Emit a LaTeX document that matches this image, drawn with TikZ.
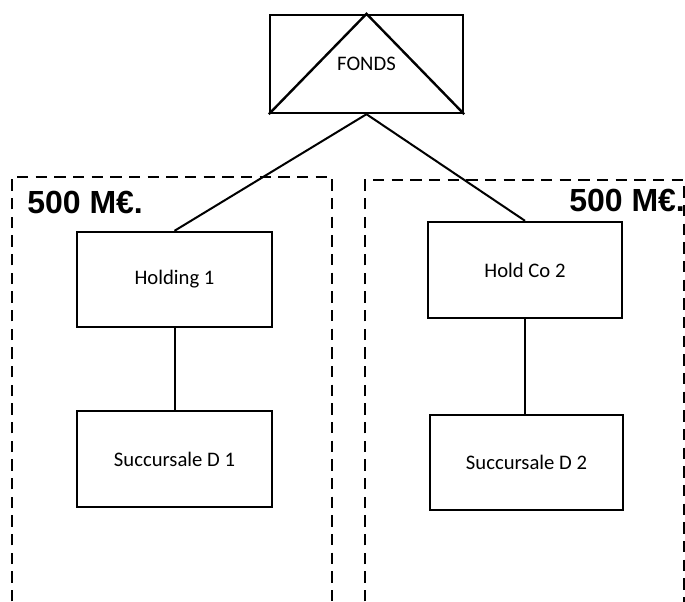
\documentclass[tikz,border=0pt]{standalone}
\usepackage{fontspec}
\setmainfont{Carlito}
\newfontfamily\labelfont{Liberation Sans}
\usetikzlibrary{positioning}
\tikzset{
  orgbox/.style={
    draw=black,
    line width=1.8pt,
    fill=white,
    align=center,
    inner sep=2pt,
    font=\fontsize{15.5}{18}\selectfont
  },
  zonebox/.style={
    draw=black,
    line width=1.5pt,
    dash pattern=on 8.5pt off 5.5pt
  },
  link/.style={
    draw=black,
    line width=1.5pt
  },
  amount/.style={
    anchor=base west,
    inner sep=0pt,
    font=\labelfont\bfseries\fontsize{24}{28}\selectfont
  }
}
\begin{document}
\begin{tikzpicture}[x=0.75pt,y=-0.75pt]
  \useasboundingbox (0,0) rectangle (685,601);
  \clip (0,0) rectangle (685,601);

  % dashed zones
  \draw[zonebox] (12,620) -- (12,177) -- (332,177) -- (332,620);
  \draw[zonebox] (365,620) -- (365,180) -- (684,180) -- (684,620);
  \node[amount] (amountA) at (27,213) {500 M€.};
  \node[amount] (amountB) at (569,211) {500 M€.};

  % entities
  \node[orgbox, minimum width=144.75pt, minimum height=73.5pt] (fonds)
    at (366.5,64) {FONDS};
  \draw[line width=1.8pt] (fonds.south west) -- (fonds.north) -- (fonds.south east);
  \node[orgbox, minimum width=146.25pt, minimum height=71.25pt] (holdA)
    at (174.5,279.5) {Holding 1};
  \node[orgbox, minimum width=145.5pt, minimum height=72pt] (holdB)
    at (525,270) {Hold Co 2};
  \node[orgbox, minimum width=146.25pt, minimum height=72pt] (succA)
    at (174.5,459) {Succursale D 1};
  \node[orgbox, minimum width=145pt, minimum height=71.25pt] (succB)
    at (526.5,462.5) {Succursale D 2};

  % links
  \draw[link] (fonds.south) -- (holdA.north);
  \draw[link] (fonds.south) -- (holdB.north);
  \draw[link] (holdA) -- (succA);
  \draw[link] (holdB.south) -- (holdB.south |- succB.north);
\end{tikzpicture}
\end{document}
